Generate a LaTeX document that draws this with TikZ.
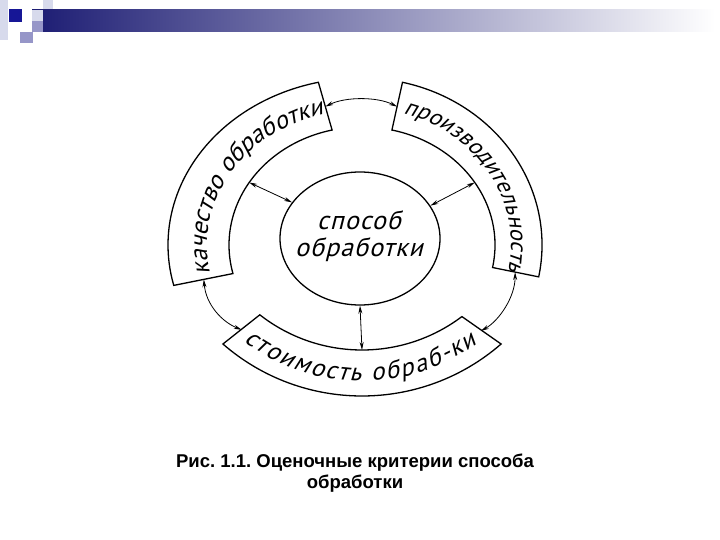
\documentclass[tikz,border=0pt]{standalone}
\usepackage{fontspec}
\setmainfont{Liberation Sans}
\newfontfamily\drawfont[FakeSlant=0.25]{PT Sans}
\newfontfamily\drawfontwide[FakeSlant=0.25,LetterSpace=4]{PT Sans}
\usetikzlibrary{arrows.meta,shapes.geometric,decorations.text,calc}
\definecolor{barnavy}{RGB}{28,28,115}
\definecolor{barmid}{RGB}{180,180,200}
\definecolor{sqnavy}{RGB}{22,22,150}
\definecolor{sqlav}{RGB}{150,150,200}
\definecolor{sqpale}{RGB}{215,218,236}
\newcommand{\segfont}{\drawfont\fontsize{25}{25}\selectfont}
\newcommand{\segfontsm}{\drawfont\fontsize{23}{23}\selectfont}
\newcommand{\midfont}{\drawfontwide\fontsize{26}{27}\selectfont}
\newcommand{\capfont}{\frenchspacing\bfseries\fontsize{18.5}{21.5}\selectfont}

\begin{document}
\begin{tikzpicture}[x=1pt, y=-1pt, line width=1.3pt, >={Stealth[length=8pt,width=4pt]}]
\useasboundingbox (0,0) rectangle (720,540);

\fill[sqpale] (0,0) rectangle (8,40);
\fill[sqpale] (43,0) rectangle (53,10);
\shade[left color=barnavy, middle color=barmid, right color=white] (32,10) rectangle (715,32);
\fill[sqpale] (32,10) rectangle (43,21);
\fill[sqlav] (32,21) rectangle (43,32);
\fill[sqnavy] (9,9) rectangle (22,22);
\fill[sqlav] (20,32) rectangle (33,43);

\coordinate (ctr) at (362,245);
\coordinate (bctr) at (362,184);

\draw ($(ctr)+(166:194 and 167)$) arc[start angle=166, end angle=257, x radius=194, y radius=167]
  -- ($(ctr)+(257:133 and 118)$) arc[start angle=257, end angle=166, x radius=133, y radius=118] -- cycle;
\draw ($(ctr)+(-77:180 and 167)$) arc[start angle=-77, end angle=11, x radius=180, y radius=167]
  -- ($(ctr)+(11:133 and 118)$) arc[start angle=11, end angle=-77, x radius=133, y radius=118] -- cycle;
\draw ($(bctr)+(131:212)$) arc[start angle=131, end angle=49, radius=212]
  -- ($(bctr)+(53:166)$) arc[start angle=53, end angle=128, radius=166] -- cycle;

\path[decorate, decoration={text along path, text align={fit to path},
  text={|\segfont|качество обработки}}]
  ($(ctr)+(168:155 and 135)$) arc[start angle=168, end angle=255, x radius=155, y radius=135];
\path[decorate, decoration={text along path, text align={fit to path},
  text={|\segfontsm|производительность}}]
  ($(ctr)+(-74:149 and 137)$) arc[start angle=-74, end angle=11, x radius=149, y radius=137];
\path[decorate, decoration={text along path, text align={fit to path},
  text={|\segfont|стоимость обраб-ки}}]
  ($(bctr)+(127:197)$) arc[start angle=127, end angle=54, radius=197];

\node[draw, ellipse, minimum width=160pt, minimum height=133pt, inner sep=0pt] (sposob) at (360,238.5) {};
\node[font=\midfont, align=center, inner sep=0pt] (sposob-text) at (359,236) {способ\\обработки};

\coordinate (kach-top) at ($(ctr)+(257:163 and 142)$);
\coordinate (proiz-top) at ($(ctr)+(-77:156 and 142)$);
\coordinate (kach-bot) at ($(ctr)+(166:163 and 142)$);
\coordinate (proiz-bot) at ($(ctr)+(11:156 and 142)$);
\coordinate (stoim-left) at ($(bctr)+(129.5:189)$);
\coordinate (stoim-right) at ($(bctr)+(51:189)$);
\coordinate (kach-in) at ($(ctr)+(212:133 and 118)$);
\coordinate (proiz-in) at ($(ctr)+(-32:133 and 118)$);
\coordinate (stoim-in) at ($(bctr)+(90:166)$);

\draw[<->, line width=0.8pt] (kach-in) -- (sposob.152);
\draw[<->, line width=0.8pt] (proiz-in) -- (sposob.25);
\draw[<->, line width=0.8pt] (stoim-in) -- (sposob.south);
\draw[<->, line width=0.8pt] (kach-top) .. controls +(20,-10) and +(-20,-10) .. (proiz-top);
\draw[<->, line width=0.8pt] (kach-bot) .. controls +(2,25) and +(-20,-8) .. (stoim-left);
\draw[<->, line width=0.8pt] (proiz-bot) .. controls +(0,25) and +(18,-10) .. (stoim-right);

\node[font=\capfont, align=center, inner sep=0pt] (caption) at (355,473)
  {Рис. 1.1. Оценочные критерии способа\\обработки};

\end{tikzpicture}
\end{document}
